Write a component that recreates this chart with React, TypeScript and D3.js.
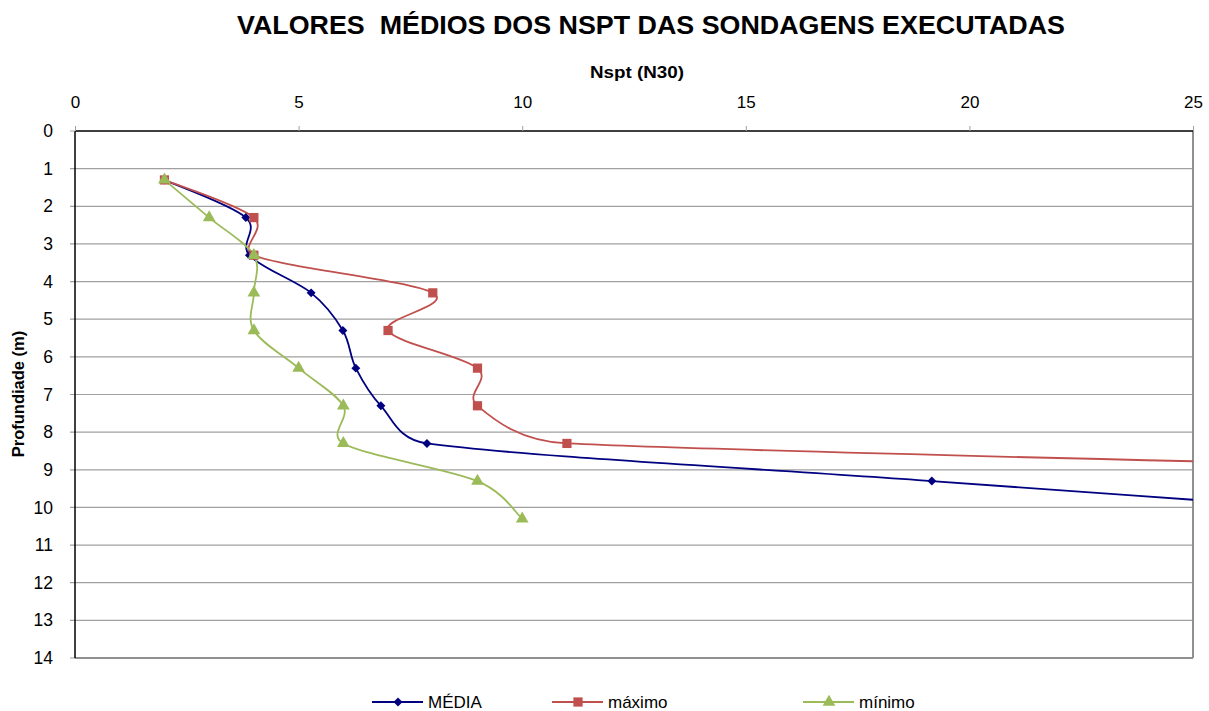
import React, { useEffect, useRef } from "react";
import * as d3 from "d3";

// profundidade (m) das leituras
const depths = [1.3, 2.3, 3.3, 4.3, 5.3, 6.3, 7.3, 8.3, 9.3, 10.3];
const media = [2, 3.82, 3.9, 5.28, 5.99, 6.28, 6.84, 7.87, 19.16, 31];
const maximo = [2, 4, 4, 8, 7, 9, 9, 11, 45];
const minimo = [2, 3, 4, 4, 4, 5, 6, 6, 9, 10];
const xTicks = [0, 5, 10, 15, 20, 25];
const yTicks = d3.range(0, 15);

const diamond = { draw: (ctx: any, size: number) => { const r = Math.sqrt(size) / 1.5; ctx.moveTo(0, -r); ctx.lineTo(r, 0); ctx.lineTo(0, r); ctx.lineTo(-r, 0); ctx.closePath(); } };

const series = [
  { name: "MÉDIA", values: media, color: "#000080", symbol: diamond, size: 45, legendX: 372 },
  { name: "máximo", values: maximo, color: "#C0504D", symbol: d3.symbolSquare, size: 85, legendX: 552 },
  { name: "mínimo", values: minimo, color: "#9BBB59", symbol: d3.symbolTriangle, size: 70, legendX: 803 },
];

// smoothed line like the spreadsheet one: bezier arms of 1/6, capped at half the segment
function smooth(pts: [number, number][]) {
  const p = d3.path();
  p.moveTo(pts[0][0], pts[0][1]);
  const arm = (a: [number, number], b: [number, number], seg: number) => {
    let dx = (b[0] - a[0]) / 6, dy = (b[1] - a[1]) / 6;
    const len = Math.hypot(dx, dy);
    if (len > seg / 2 && len > 0) { dx *= seg / 2 / len; dy *= seg / 2 / len; }
    return [dx, dy];
  };
  for (let i = 0; i < pts.length - 1; i++) {
    const p0 = pts[Math.max(0, i - 1)], p1 = pts[i], p2 = pts[i + 1], p3 = pts[Math.min(pts.length - 1, i + 2)];
    const seg = Math.hypot(p2[0] - p1[0], p2[1] - p1[1]);
    const a1 = arm(p0, p2, seg), a2 = arm(p1, p3, seg);
    p.bezierCurveTo(p1[0] + a1[0], p1[1] + a1[1], p2[0] - a2[0], p2[1] - a2[1], p2[0], p2[1]);
  }
  return p.toString();
}

export default function App() {
  const ref = useRef<SVGSVGElement>(null);

  useEffect(() => {
    const width = 1209;
    const height = 711;
    const margin = { top: 131, right: 16, bottom: 53, left: 75 };
    const innerW = width - margin.left - margin.right;
    const innerH = height - margin.top - margin.bottom;
    const font = "Arial, 'Liberation Sans', sans-serif";

    const svg = d3.select(ref.current).attr("width", width).attr("height", height);
    svg.selectAll("*").remove();
    svg.style("font-family", font);

    const x = d3.scaleLinear().domain([0, 25]).range([0, innerW]);
    const y = d3.scaleLinear().domain([0, 14]).range([0, innerH]);

    svg.append("defs").append("clipPath").attr("id", "plotClip")
      .append("rect").attr("width", innerW).attr("height", innerH);

    const g = svg.append("g").attr("transform", `translate(${margin.left},${margin.top})`);

    // gridlines
    g.selectAll(".grid").data(yTicks.slice(1)).enter().append("line")
      .attr("x1", -5).attr("x2", innerW)
      .attr("y1", d => y(d)).attr("y2", d => y(d))
      .attr("stroke", "#a0a0a0").attr("stroke-width", 1.2);

    // frame: right and bottom gray
    g.append("line").attr("x1", innerW).attr("x2", innerW).attr("y1", 0).attr("y2", innerH)
      .attr("stroke", "#909090").attr("stroke-width", 2);
    g.append("line").attr("x1", 0).attr("x2", innerW).attr("y1", innerH).attr("y2", innerH)
      .attr("stroke", "#909090").attr("stroke-width", 2);

    // top axis
    const xAxis = g.append("g").call(d3.axisTop(x).tickValues(xTicks).tickSize(5).tickPadding(18));
    xAxis.select(".domain").attr("stroke", "#000").attr("stroke-width", 1.5).attr("d", `M0,0H${innerW}`);
    xAxis.selectAll(".tick line").attr("stroke", "#a0a0a0");
    xAxis.selectAll("text").attr("fill", "#000").style("font-size", "17px").style("font-family", font);

    // left axis
    const yAxis = g.append("g").call(d3.axisLeft(y).tickValues(yTicks).tickSize(0).tickPadding(22));
    yAxis.select(".domain").attr("stroke", "#000").attr("stroke-width", 1.5).attr("d", `M0,0V${innerH}`);
    yAxis.selectAll("text").attr("fill", "#000").style("font-size", "17.5px").style("font-family", font);
    g.append("line").attr("x1", -5).attr("x2", 0).attr("y1", 0).attr("y2", 0).attr("stroke", "#a0a0a0");

    const plot = g.append("g").attr("clip-path", "url(#plotClip)");
    series.forEach(s => {
      const pts = s.values.map((d, i) => [x(d), y(depths[i])] as [number, number]);
      plot.append("path").attr("d", smooth(pts))
        .attr("fill", "none").attr("stroke", s.color).attr("stroke-width", 1.8);
    });
    series.forEach(s => {
      plot.selectAll(null).data(s.values).enter().append("path")
        .attr("d", d3.symbol().type(s.symbol as any).size(s.size))
        .attr("transform", (d, i) => `translate(${x(d)},${y(depths[i])})`)
        .attr("fill", s.color);
    });

    // titles
    svg.append("text").attr("x", 651).attr("y", 34).attr("text-anchor", "middle")
      .style("font-size", "25px").style("font-weight", "bold")
      .attr("textLength", 828).attr("lengthAdjust", "spacingAndGlyphs")
      .attr("xml:space", "preserve")
      .text("VALORES  MÉDIOS DOS NSPT DAS SONDAGENS EXECUTADAS");

    svg.append("text").attr("x", 637).attr("y", 78).attr("text-anchor", "middle")
      .style("font-size", "16.5px").style("font-weight", "bold")
      .attr("textLength", 94).attr("lengthAdjust", "spacingAndGlyphs").text("Nspt (N30)");

    svg.append("text").attr("transform", "translate(24,394) rotate(-90)").attr("text-anchor", "middle")
      .style("font-size", "16.5px").style("font-weight", "bold").text("Profundiade (m)");

    // legend
    const leg = svg.append("g").attr("transform", "translate(0,702)");
    series.forEach(s => {
      leg.append("line").attr("x1", s.legendX).attr("x2", s.legendX + 51).attr("y1", 0).attr("y2", 0)
        .attr("stroke", s.color).attr("stroke-width", 1.8);
      leg.append("path").attr("d", d3.symbol().type(s.symbol as any).size(s.size))
        .attr("transform", `translate(${s.legendX + 26},0)`).attr("fill", s.color);
      leg.append("text").attr("x", s.legendX + 56).attr("y", 6)
        .style("font-size", "17px").text(s.name);
    });
  }, []);

  return <svg ref={ref} style={{ display: "block", position: "absolute", left: 0, top: 0 }}></svg>;
}
